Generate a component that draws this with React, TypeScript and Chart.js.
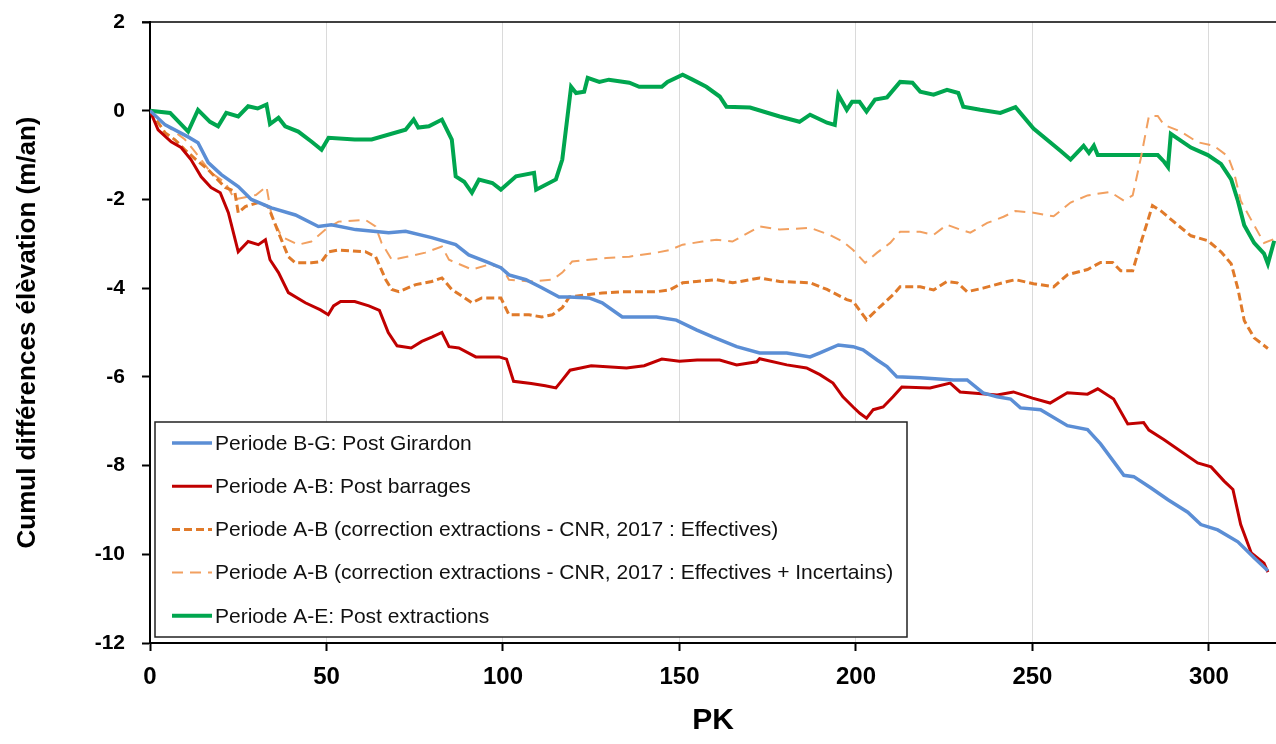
import React, { useEffect, useRef } from "react";
import { Chart, registerables } from "chart.js";

Chart.register(...registerables);

const FONT = "'Liberation Sans', Arial, Helvetica, sans-serif";

const seriesLabels = [
  "Periode B-G: Post Girardon",
  "Periode A-B: Post barrages",
  "Periode A-B (correction extractions - CNR, 2017 : Effectives)",
  "Periode A-B (correction extractions - CNR, 2017 : Effectives + Incertains)",
  "Periode A-E: Post extractions",
];

const xTicks = [0, 50, 100, 150, 200, 250, 300];
const yTicks = [2, 0, -2, -4, -6, -8, -10, -12];

const bgPK = [0, 4.3, 10.8, 13.6, 16.5, 20.2, 25, 28.7, 34.4, 41.2, 47.7, 51.4, 58.2, 67.6, 72.4, 79.8, 86.6, 90.3, 95.2, 99.4, 101.7, 106.5, 111, 115.9, 118.8, 124.4, 128.1, 133.8, 143.5, 149.1, 154.8, 159.4, 166.2, 172.7, 180.4, 187, 189.8, 195, 199.2, 202, 206, 208.8, 211.6, 218.2, 227.6, 231.5, 236, 240, 243.8, 246.6, 252.3, 259.9, 265.6, 269.3, 275.9, 278.7, 283.5, 288.4, 294, 297.7, 302.5, 308.2, 312.8, 316.7];
const bgVal = [0, -0.32, -0.59, -0.72, -1.17, -1.44, -1.71, -2.0, -2.19, -2.35, -2.61, -2.57, -2.68, -2.75, -2.72, -2.86, -3.02, -3.25, -3.4, -3.54, -3.7, -3.81, -3.99, -4.2, -4.2, -4.22, -4.33, -4.65, -4.65, -4.72, -4.94, -5.1, -5.32, -5.46, -5.46, -5.55, -5.46, -5.28, -5.32, -5.39, -5.62, -5.77, -6.0, -6.02, -6.07, -6.07, -6.36, -6.45, -6.5, -6.7, -6.74, -7.1, -7.19, -7.51, -8.22, -8.25, -8.5, -8.77, -9.05, -9.33, -9.45, -9.72, -10.08, -10.37];

const abPK = [0, 2.3, 6, 8.8, 11.6, 14.5, 17.3, 19.9, 22.2, 25, 27.8, 30.7, 32.7, 34, 36.4, 39.2, 44, 48.3, 50.5, 52, 54, 58, 62, 65, 67.5, 70, 74, 77, 80, 82.7, 84.7, 87.5, 92.3, 98.9, 101, 103, 108, 112, 115, 117, 119, 122, 125, 135, 140, 145, 150, 155, 161.4, 166.2, 171.9, 172.7, 180.4, 186, 189.8, 193.5, 196.3, 199.2, 201.1, 203, 204.9, 207.7, 210.5, 213, 221, 226.7, 229.5, 240, 244.6, 250, 255, 259.9, 265.6, 268.5, 273, 277, 281.5, 283, 287.3, 296.8, 300.6, 304.3, 306.8, 309, 312, 315.6, 316.7];
const abVal = [0, -0.43, -0.7, -0.83, -1.1, -1.49, -1.73, -1.85, -2.3, -3.18, -2.95, -3.02, -2.91, -3.36, -3.65, -4.1, -4.33, -4.49, -4.6, -4.4, -4.3, -4.3, -4.4, -4.5, -5.0, -5.3, -5.35, -5.2, -5.1, -5.0, -5.32, -5.35, -5.55, -5.55, -5.6, -6.1, -6.15, -6.2, -6.25, -6.05, -5.85, -5.8, -5.75, -5.8, -5.75, -5.6, -5.65, -5.62, -5.62, -5.73, -5.66, -5.59, -5.73, -5.8, -5.95, -6.14, -6.45, -6.68, -6.82, -6.93, -6.74, -6.68, -6.45, -6.23, -6.25, -6.14, -6.34, -6.41, -6.34, -6.48, -6.59, -6.36, -6.39, -6.27, -6.5, -7.06, -7.03, -7.2, -7.42, -7.94, -8.03, -8.35, -8.54, -9.33, -9.97, -10.2, -10.4];

const effPK = [0, 4.3, 7, 9.9, 13, 16.5, 21.3, 24, 25, 27, 30.7, 33.5, 36.4, 39.2, 41.2, 45.7, 48.6, 50.6, 53.4, 61, 63.9, 66.8, 68.5, 70.5, 75.3, 79.8, 82.7, 85.5, 91.2, 94, 99.4, 101.7, 107.4, 111, 114, 116.8, 118.8, 123.6, 128.1, 133.8, 143.5, 147.2, 150.9, 154.8, 160.5, 165.1, 172.7, 178.4, 187, 191.8, 197.4, 199.2, 203, 206.8, 210.5, 212.5, 218.2, 222, 225.8, 228.7, 231.5, 236, 242.9, 245.2, 250.3, 256, 259.9, 265.6, 269.3, 272.7, 275, 278.4, 280.7, 282.6, 284, 286.4, 291.2, 294.9, 299.7, 303.4, 306.3, 308.2, 310, 312.8, 316.7];
const effVal = [0, -0.5, -0.65, -0.88, -1.1, -1.33, -1.73, -1.82, -2.3, -2.16, -2.07, -2.16, -2.75, -3.29, -3.43, -3.43, -3.4, -3.18, -3.14, -3.18, -3.29, -3.81, -4.03, -4.08, -3.92, -3.85, -3.77, -4.03, -4.33, -4.22, -4.22, -4.6, -4.6, -4.65, -4.6, -4.44, -4.2, -4.15, -4.11, -4.08, -4.08, -4.04, -3.88, -3.85, -3.81, -3.88, -3.77, -3.85, -3.88, -4.03, -4.26, -4.3, -4.71, -4.42, -4.15, -3.97, -3.97, -4.04, -3.85, -3.88, -4.08, -4.0, -3.85, -3.81, -3.9, -3.97, -3.7, -3.58, -3.42, -3.42, -3.61, -3.61, -2.98, -2.5, -2.14, -2.26, -2.58, -2.82, -2.93, -3.18, -3.45, -4.01, -4.73, -5.12, -5.36];

const incPK = [0, 5.1, 9.9, 13, 17.3, 21.3, 24, 27, 30, 33, 34.5, 37.3, 42, 45.7, 49.7, 53.4, 61, 63.9, 65.6, 68.5, 72.4, 78, 82.7, 84.7, 91.2, 96, 99.7, 101.7, 107.4, 114, 116.8, 119.6, 124.4, 129.3, 135.8, 143.5, 147.2, 150.9, 156.5, 160.5, 165, 172.7, 178.4, 187, 192.6, 196.3, 199.2, 202.6, 206, 209.7, 212.5, 218.2, 222, 225.8, 229.5, 232.4, 237.2, 241.8, 245.2, 250.3, 256, 260.8, 265.6, 272, 275.9, 278.4, 280.7, 283, 285.5, 287.3, 292, 296.8, 301.4, 305.4, 307.1, 309, 312.8, 315.6, 318.2];
const incVal = [0, -0.36, -0.65, -0.95, -1.4, -1.62, -2.0, -1.95, -1.9, -1.71, -2.39, -2.84, -3.02, -2.95, -2.68, -2.5, -2.46, -2.61, -2.98, -3.36, -3.3, -3.2, -3.06, -3.36, -3.58, -3.47, -3.54, -3.81, -3.85, -3.81, -3.65, -3.4, -3.36, -3.32, -3.29, -3.2, -3.14, -3.02, -2.95, -2.91, -2.95, -2.61, -2.68, -2.64, -2.8, -2.95, -3.14, -3.43, -3.2, -2.98, -2.73, -2.73, -2.8, -2.57, -2.68, -2.75, -2.53, -2.39, -2.26, -2.3, -2.38, -2.07, -1.91, -1.83, -2.03, -1.91, -1.07, -0.12, -0.12, -0.32, -0.47, -0.71, -0.79, -1.03, -1.39, -2.03, -2.58, -2.98, -2.9];

const aePK = [0, 5.7, 10.8, 13.6, 17, 19.3, 21.6, 25, 27.8, 30.5, 33, 34, 36.4, 38.3, 42, 45.8, 48.6, 50.6, 58, 62.8, 72.4, 74.7, 76, 79, 82.7, 85.5, 86.6, 89, 91.2, 93.2, 97, 99.4, 103.7, 108.8, 109.4, 115, 116.8, 119.3, 120.7, 123, 124, 127.3, 130, 135.8, 138.6, 145, 146.6, 150.9, 153.7, 157.6, 161.4, 163.3, 170, 178.4, 184, 187, 191.8, 194, 195, 197.4, 198.9, 201, 203, 205.4, 208.8, 212.5, 216, 218.2, 222, 225.8, 229, 230.4, 235.2, 240.9, 245.2, 250.3, 258, 260.8, 264.5, 266, 267.4, 268.5, 285.5, 287.3, 288.4, 289.2, 294.9, 299.7, 303.4, 306.3, 308.2, 310, 312.8, 315.6, 316.7, 318.5];
const aeVal = [0, -0.05, -0.47, 0.02, -0.25, -0.35, -0.05, -0.13, 0.1, 0.05, 0.14, -0.3, -0.16, -0.35, -0.47, -0.7, -0.88, -0.61, -0.65, -0.65, -0.43, -0.2, -0.38, -0.35, -0.2, -0.65, -1.48, -1.6, -1.85, -1.55, -1.63, -1.78, -1.48, -1.4, -1.78, -1.55, -1.1, 0.54, 0.4, 0.43, 0.74, 0.65, 0.7, 0.63, 0.54, 0.54, 0.65, 0.81, 0.7, 0.54, 0.32, 0.09, 0.07, -0.13, -0.25, -0.09, -0.27, -0.32, 0.36, 0.02, 0.2, 0.2, -0.02, 0.25, 0.3, 0.65, 0.63, 0.43, 0.36, 0.47, 0.4, 0.09, 0.02, -0.05, 0.08, -0.4, -0.91, -1.1, -0.79, -0.95, -0.79, -1.0, -1.0, -1.15, -1.27, -0.52, -0.83, -1.0, -1.2, -1.55, -2.03, -2.58, -2.98, -3.22, -3.45, -2.93];

const toPoints = (xs: number[], ys: number[]) => xs.map((x, i) => ({ x, y: ys[i] }));

const legendPlugin = {
  id: "boxLegend",
  afterDatasetsDraw(chart: any) {
    const { ctx, chartArea } = chart;
    const left = chartArea.left + 5;
    const top = chartArea.bottom - 221;
    const w = 752;
    const h = 215;
    ctx.save();
    ctx.fillStyle = "#ffffff";
    ctx.fillRect(left, top, w, h);
    ctx.strokeStyle = "#222";
    ctx.lineWidth = 1.5;
    ctx.strokeRect(left, top, w, h);
    ctx.font = `21px ${FONT}`;
    ctx.textBaseline = "middle";
    ctx.textAlign = "left";
    chart.data.datasets.forEach((ds: any, i: number) => {
      const y = top + 21 + i * 43.2;
      ctx.beginPath();
      ctx.strokeStyle = ds.borderColor;
      ctx.lineWidth = ds.borderWidth;
      ctx.setLineDash(ds.borderDash || []);
      ctx.moveTo(left + 17, y);
      ctx.lineTo(left + 57, y);
      ctx.stroke();
      ctx.setLineDash([]);
      ctx.fillStyle = "#111";
      ctx.fillText(ds.label, left + 60, y + 1);
    });
    ctx.restore();
  },
};

const topBorderPlugin = {
  id: "topBorder",
  afterDraw(chart: any) {
    const { ctx, chartArea } = chart;
    ctx.save();
    ctx.strokeStyle = "#000";
    ctx.lineWidth = 1.5;
    ctx.beginPath();
    ctx.moveTo(chartArea.left - 8, chartArea.top);
    ctx.lineTo(chartArea.right, chartArea.top);
    ctx.stroke();
    ctx.restore();
  },
};

export default function App() {
  const ref = useRef<HTMLCanvasElement | null>(null);
  useEffect(() => {
    if (!ref.current) return;
    Chart.defaults.font.family = FONT;
    const chart = new Chart(ref.current, {
      type: "line",
      data: {
        datasets: [
          { label: seriesLabels[0], data: toPoints(bgPK, bgVal), borderColor: "#5B8ED5", borderWidth: 3.5, pointRadius: 0, tension: 0, fill: false },
          { label: seriesLabels[1], data: toPoints(abPK, abVal), borderColor: "#C00000", borderWidth: 3, pointRadius: 0, tension: 0, fill: false },
          { label: seriesLabels[2], data: toPoints(effPK, effVal), borderColor: "#E07A2A", borderWidth: 3, borderDash: [8, 4], pointRadius: 0, tension: 0, fill: false },
          { label: seriesLabels[3], data: toPoints(incPK, incVal), borderColor: "#F2A060", borderWidth: 2, borderDash: [11, 7], pointRadius: 0, tension: 0, fill: false },
          { label: seriesLabels[4], data: toPoints(aePK, aeVal), borderColor: "#00A64F", borderWidth: 4, pointRadius: 0, tension: 0, fill: false },
        ],
      },
      options: {
        responsive: false,
        animation: false,
        devicePixelRatio: 1,
        layout: { padding: { top: 22, right: 0, left: 0, bottom: 0 } },
        plugins: { legend: { display: false }, tooltip: { enabled: false }, title: { display: false } },
        scales: {
          x: {
            type: "linear",
            min: 0,
            max: 319,
            afterBuildTicks: (s: any) => { s.ticks = xTicks.map((v) => ({ value: v })); },
            afterFit: (s: any) => { s.height = 101; s.paddingLeft = 0; s.paddingRight = 0; },
            ticks: { color: "#000", font: { size: 24, weight: "bold" }, padding: 12, autoSkip: false, maxRotation: 0 },
            grid: { color: "#DADADA", lineWidth: 1, tickColor: "#000", tickWidth: 2, tickLength: 8, drawOnChartArea: true },
            border: { color: "#000", width: 2 },
            title: { display: true, text: "PK", color: "#000", font: { size: 30, weight: "bold" }, padding: { top: 0, bottom: 5 } },
          },
          y: {
            type: "linear",
            min: -12,
            max: 2,
            afterBuildTicks: (s: any) => { s.ticks = yTicks.map((v) => ({ value: v })); },
            afterFit: (s: any) => { s.width = 150; s.paddingTop = 0; s.paddingBottom = 0; },
            ticks: { color: "#000", font: { size: 21, weight: "bold" }, padding: 17 },
            grid: { drawOnChartArea: false, tickColor: "#000", tickWidth: 2, tickLength: 8 },
            border: { color: "#000", width: 2 },
            title: { display: true, text: "Cumul différences élèvation (m/an)", color: "#000", font: { size: 26, weight: "bold" }, padding: { top: 12, bottom: 0 } },
          },
        },
      },
      plugins: [legendPlugin, topBorderPlugin],
    } as any);
    return () => chart.destroy();
  }, []);
  return (
    <div style={{ position: "fixed", left: 0, top: 0, width: 1276, height: 744, background: "#fff" }}>
      <canvas ref={ref} width={1276} height={744} style={{ display: "block", width: 1276, height: 744 }} />
    </div>
  );
}
